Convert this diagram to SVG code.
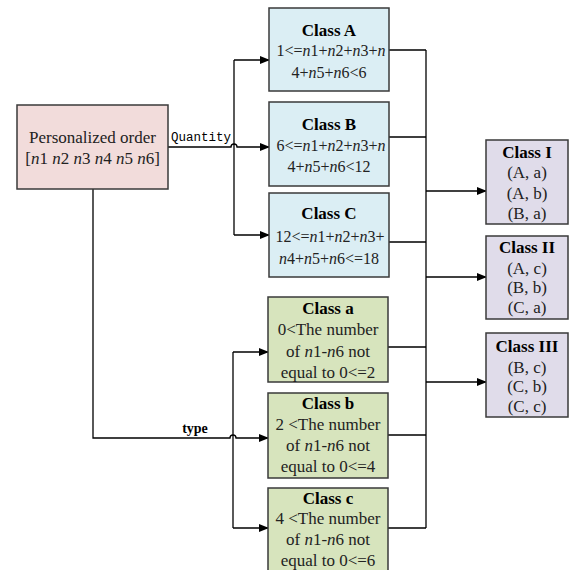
<svg xmlns="http://www.w3.org/2000/svg" width="569" height="570" viewBox="0 0 569 570">
<defs>
<marker id="ah" markerWidth="10" markerHeight="8" refX="9" refY="4" orient="auto" markerUnits="userSpaceOnUse">
<path d="M0,0 L10,4 L0,8 z" fill="#000"/>
</marker>
<style>
.box{stroke:#3a3a3a;stroke-width:1.5}
.pink{fill:#f2dcdb}.blue{fill:#dbeef4}.green{fill:#d7e4bd}.purple{fill:#e0dcea}
text{font-family:"Liberation Serif","Times New Roman",serif;font-size:17px;fill:#222;text-anchor:middle}
.t{font-weight:bold;fill:#000}
.i{font-style:italic}
.s{font-size:16px}
.ln{fill:none;stroke:#000;stroke-width:1.3}
.lab{font-size:12.5px;font-family:"Liberation Mono","Courier New",monospace;fill:#000;text-anchor:start}
</style>
</defs>
<g id="connectors">
<path class="ln" d="M168,147 H231 a3,3 0 0 1 6,0 H269" marker-end="url(#ah)"/>
<path class="ln" d="M234,60 V235"/>
<path class="ln" d="M234,60 H269" marker-end="url(#ah)"/>
<path class="ln" d="M234,235 H269" marker-end="url(#ah)"/>
<path class="ln" d="M93,189 V438 H230 a3,3 0 0 1 6,0 H268" marker-end="url(#ah)"/>
<path class="ln" d="M233,352 V528"/>
<path class="ln" d="M233,352 H268" marker-end="url(#ah)"/>
<path class="ln" d="M233,528 H268" marker-end="url(#ah)"/>
<path class="ln" d="M426,50 V528"/>
<path class="ln" d="M389,50 H426 M389,137 H426 M389,242 H426 M388,347 H426 M388,435 H426 M388,528 H426"/>
<path class="ln" d="M426,191 H486" marker-end="url(#ah)"/>
<path class="ln" d="M426,277 H486" marker-end="url(#ah)"/>
<path class="ln" d="M426,382 H486" marker-end="url(#ah)"/>
<text class="lab" x="171" y="141">Quantity</text>
<text class="t" x="195" y="433" style="font-size:14px">type</text>
</g>
<g id="order">
<rect class="box pink" x="17" y="105" width="151" height="84"/>
<text x="92.5" y="143">Personalized order</text>
<text x="92.5" y="164">[<tspan class="i">n</tspan>1 <tspan class="i">n</tspan>2 <tspan class="i">n</tspan>3 <tspan class="i">n</tspan>4 <tspan class="i">n</tspan>5 <tspan class="i">n</tspan>6]</text>
</g>
<g id="classA">
<rect class="box blue" x="269" y="8" width="120" height="83"/>
<text class="t" x="329" y="36">Class A</text>
<text class="s" x="331" y="56">1&lt;=<tspan class="i">n</tspan>1+<tspan class="i">n</tspan>2+<tspan class="i">n</tspan>3+<tspan class="i">n</tspan></text>
<text class="s" x="329" y="78">4+<tspan class="i">n</tspan>5+<tspan class="i">n</tspan>6&lt;6</text>
</g>
<g id="classB">
<rect class="box blue" x="269" y="102" width="120" height="84"/>
<text class="t" x="329" y="130">Class B</text>
<text class="s" x="331" y="151">6&lt;=<tspan class="i">n</tspan>1+<tspan class="i">n</tspan>2+<tspan class="i">n</tspan>3+<tspan class="i">n</tspan></text>
<text class="s" x="329" y="172">4+<tspan class="i">n</tspan>5+<tspan class="i">n</tspan>6&lt;12</text>
</g>
<g id="classC">
<rect class="box blue" x="269" y="193" width="120" height="84"/>
<text class="t" x="329" y="219">Class C</text>
<text class="s" x="330" y="242">12&lt;=<tspan class="i">n</tspan>1+<tspan class="i">n</tspan>2+<tspan class="i">n</tspan>3+</text>
<text class="s" x="329" y="264"><tspan class="i">n</tspan>4+<tspan class="i">n</tspan>5+<tspan class="i">n</tspan>6&lt;=18</text>
</g>
<g id="classa">
<rect class="box green" x="268" y="297" width="120" height="85"/>
<text class="t" x="328" y="314">Class a</text>
<text x="328" y="335">0&lt;The number</text>
<text x="328" y="357">of <tspan class="i">n</tspan>1-<tspan class="i">n</tspan>6 not</text>
<text x="328" y="378">equal to 0&lt;=2</text>
</g>
<g id="classb">
<rect class="box green" x="268" y="393" width="120" height="85"/>
<text class="t" x="328" y="409">Class b</text>
<text x="328" y="430">2 &lt;The number</text>
<text x="328" y="451">of <tspan class="i">n</tspan>1-<tspan class="i">n</tspan>6 not</text>
<text x="328" y="472">equal to 0&lt;=4</text>
</g>
<g id="classc">
<rect class="box green" x="268" y="488" width="120" height="90"/>
<text class="t" x="328" y="504">Class c</text>
<text x="328" y="524">4 &lt;The number</text>
<text x="328" y="545">of <tspan class="i">n</tspan>1-<tspan class="i">n</tspan>6 not</text>
<text x="328" y="566">equal to 0&lt;=6</text>
</g>
<g id="classI">
<rect class="box purple" x="486" y="140" width="82" height="84"/>
<text class="t" x="527" y="158">Class I</text>
<text x="527" y="178">(A, a)</text>
<text x="527" y="199">(A, b)</text>
<text x="527" y="219">(B, a)</text>
</g>
<g id="classII">
<rect class="box purple" x="486" y="236" width="82" height="83"/>
<text class="t" x="527" y="253">Class II</text>
<text x="527" y="274">(A, c)</text>
<text x="527" y="293">(B, b)</text>
<text x="527" y="313">(C, a)</text>
</g>
<g id="classIII">
<rect class="box purple" x="486" y="333" width="82" height="84"/>
<text class="t" x="527" y="352">Class III</text>
<text x="527" y="373">(B, c)</text>
<text x="527" y="392">(C, b)</text>
<text x="527" y="412">(C, c)</text>
</g>
</svg>
